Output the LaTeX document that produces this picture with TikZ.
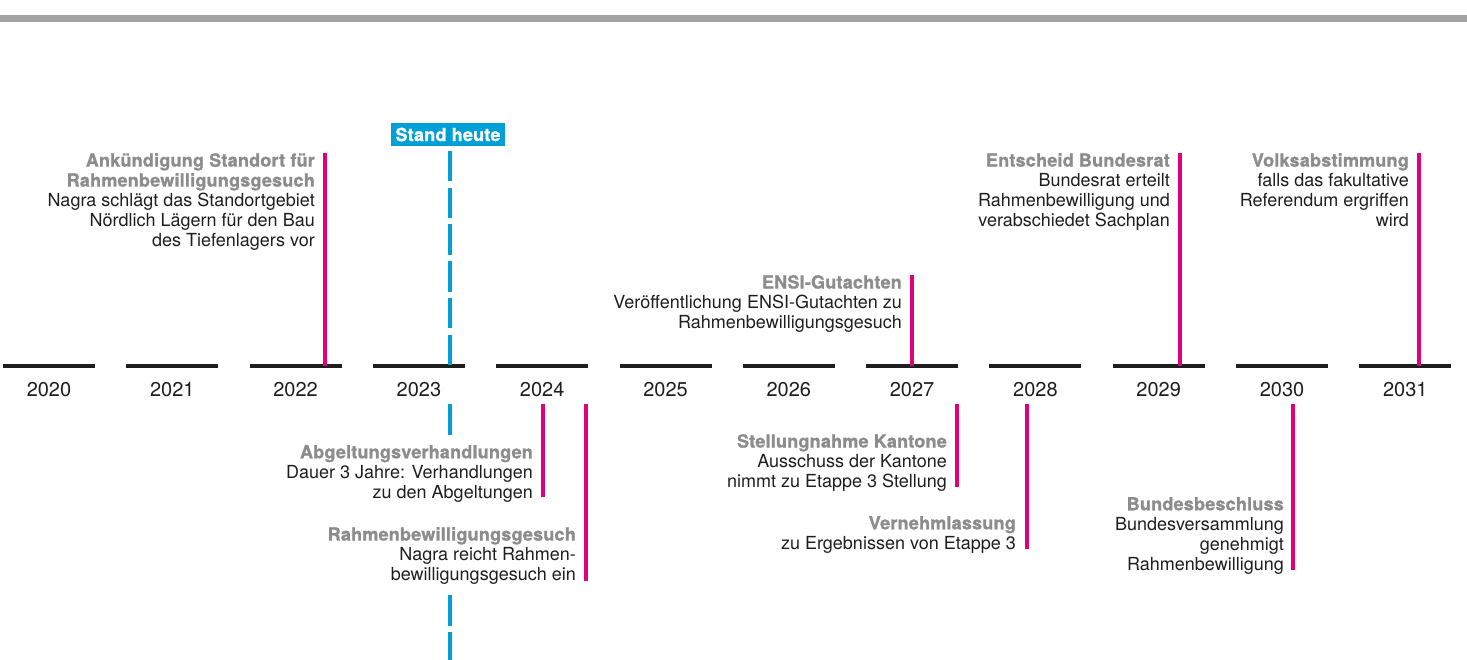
\documentclass[tikz,border=0pt]{standalone}
\usepackage{fontspec}
\setmainfont{TeX Gyre Heros}
\newfontface\titelfont[FakeBold=1.2,LetterSpace=1.2]{texgyreheros-bold.otf}
\definecolor{M}{RGB}{226,0,122}
\definecolor{BL}{RGB}{0,160,214}
\definecolor{GR}{RGB}{140,140,140}
\definecolor{BG}{RGB}{163,163,163}
\definecolor{TX}{RGB}{30,30,30}
\newcommand{\ttl}[1]{{\titelfont\color{GR}#1}}

\begin{document}
\begin{tikzpicture}[x=1pt,y=-1pt,
    achse/.style={draw=TX,line width=3.7pt},
    marke/.style={draw=M,line width=3.7pt},
    heute/.style={draw=BL,line width=4pt},
    jahr/.style={text=TX,font=\fontsize{20}{24}\selectfont},
    ereignis/.style={anchor=north east,inner sep=0pt,align=right,text=TX,font=\fontsize{18}{20}\selectfont}]
    \useasboundingbox (0,0) rectangle (1467,660);

    %Balken oben
    \fill[BG] (0,15) rectangle (1467,22);

    %Zeitachse mit Jahren
    \foreach \j [count=\i from 0] in {2020,...,2031} {
        \draw[achse] ({3+123.3*\i},366) -- ({95+123.3*\i},366);
        \node[jahr] (j\j) at ({49+123.3*\i},390) {\j};
    }

    %Stand heute
    \node[fill=BL,text=white,font=\fontsize{18}{20}\titelfont,
          minimum height=23.5pt,inner xsep=5pt] (heute) at (448,134.5) {Stand heute};
    \draw[heute,dash pattern=on 30.5pt off 6.2pt] (450,151) -- (450,366);
    \draw[heute] (450,404) -- (450,435);
    \draw[heute,dash pattern=on 31pt off 6pt] (450,595) -- (450,660);

    %Ereignisse oberhalb
    \draw[marke] (325,366) -- (325,153);
    \node[ereignis] (ankuendigung) at (315,153)
        {\ttl{Ankündigung Standort für}\\\ttl{Rahmenbewilligungsgesuch}\\
         Nagra schlägt das Standortgebiet\\Nördlich Lägern für den Bau\\des Tiefenlagers vor};

    \draw[marke] (912,366) -- (912,275);
    \node[ereignis] (ensi) at (902,275)
        {\ttl{ENSI-Gutachten}\\Veröffentlichung ENSI-Gutachten zu\\Rahmenbewilligungsgesuch};

    \draw[marke] (1180,366) -- (1180,153);
    \node[ereignis] (bundesrat) at (1170,153)
        {\ttl{Entscheid Bundesrat}\\Bundesrat erteilt\\Rahmenbewilligung und\\verabschiedet Sachplan};

    \draw[marke] (1419,366) -- (1419,153);
    \node[ereignis] (volk) at (1409,153)
        {\ttl{Volksabstimmung}\\falls das fakultative\\Referendum ergriffen\\wird};

    %Ereignisse unterhalb
    \draw[marke] (543,404) -- (543,497);
    \node[ereignis] (abgeltung) at (533,445)
        {\ttl{Abgeltungsverhandlungen}\\Dauer 3 Jahre: Verhandlungen\\zu den Abgeltungen};

    \draw[marke] (586,404) -- (586,581);
    \node[ereignis] (gesuch) at (576,527)
        {\ttl{Rahmenbewilligungsgesuch}\\Nagra reicht Rahmen-\\bewilligungsgesuch ein};

    \draw[marke] (957,404) -- (957,487);
    \node[ereignis] (kantone) at (947,434)
        {\ttl{Stellungnahme Kantone}\\Ausschuss der Kantone\\nimmt zu Etappe 3 Stellung};

    \draw[marke] (1027,404) -- (1027,549);
    \node[ereignis] (vernehml) at (1016,516)
        {\ttl{Vernehmlassung}\\zu Ergebnissen von Etappe 3};

    \draw[marke] (1293,404) -- (1293,570);
    \node[ereignis] (beschluss) at (1284,497)
        {\ttl{Bundesbeschluss}\\Bundesversammlung\\genehmigt\\Rahmenbewilligung};
\end{tikzpicture}
\end{document}
